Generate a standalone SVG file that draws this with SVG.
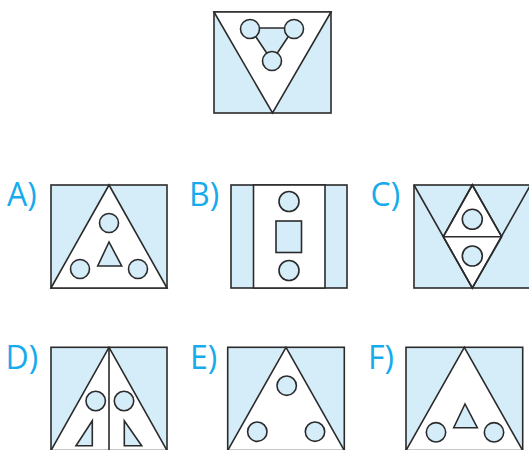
<svg xmlns="http://www.w3.org/2000/svg" width="529" height="450" viewBox="0 0 529 450">
<style>
.b{fill:#d5ecf9;stroke:#2b2b2b;stroke-width:1.6;stroke-linejoin:miter}
.w{fill:#ffffff;stroke:#2b2b2b;stroke-width:1.6}
.l{fill:none;stroke:#2b2b2b;stroke-width:1.6}
.t{font-family:"Open Sans","Liberation Sans",Arial,sans-serif;font-size:32px;fill:#16abec}
</style>
<rect width="529" height="450" fill="#ffffff"/>
<g id="question">
<rect class="b" x="214" y="12" width="117" height="101"/>
<polygon class="w" points="214,12 331,12 272.5,113"/>
<polygon class="b" points="250,28 294,28 272,61"/>
<circle class="b" cx="250" cy="29" r="9.5"/>
<circle class="b" cx="294" cy="29" r="9.5"/>
<circle class="b" cx="272" cy="61" r="9.5"/>
</g>
<g id="optA">
<text class="t" x="7" y="206">A)</text>
<rect class="b" x="51" y="185" width="116" height="103"/>
<polygon class="w" points="109,185 51,288 167,288"/>
<circle class="b" cx="109" cy="223" r="9.5"/>
<circle class="b" cx="80" cy="269" r="9.5"/>
<circle class="b" cx="138" cy="269" r="9.5"/>
<polygon class="b" points="109,242 97.7,266 121.7,266"/>
</g>
<g id="optB">
<text class="t" x="189" y="206">B)</text>
<rect class="b" x="231" y="185" width="116" height="103"/>
<rect class="w" x="253.5" y="185" width="71.5" height="103"/>
<circle class="b" cx="289" cy="201.5" r="10"/>
<rect class="b" x="276" y="221" width="25.5" height="31.5"/>
<circle class="b" cx="289" cy="270.5" r="10"/>
</g>
<g id="optC">
<text class="t" x="370.5" y="206">C)</text>
<rect class="b" x="414" y="185" width="117" height="103"/>
<polygon class="w" points="472.3,185 443.3,236.7 472.3,288 501.7,236.7"/>
<polyline class="l" points="414,185 472.3,288 530.5,185"/>
<line class="l" x1="443.3" y1="236.7" x2="501.7" y2="236.7"/>
<polyline class="l" points="443.3,236.7 472.3,185 501.7,236.7"/>
<circle class="b" cx="472.3" cy="219.3" r="10"/>
<circle class="b" cx="472.3" cy="256" r="10"/>
</g>
<g id="optD">
<text class="t" x="5.5" y="369">D)</text>
<rect class="b" x="51" y="347.3" width="116" height="105"/>
<polygon class="w" points="109,347.3 51,450.5 167,450.5"/>
<line class="l" x1="109" y1="347.3" x2="109" y2="452"/>
<circle class="b" cx="95.7" cy="401" r="9.7"/>
<circle class="b" cx="124" cy="401" r="9.7"/>
<polygon class="b" points="92.3,420.7 92.3,445.7 76,445.7"/>
<polygon class="b" points="124.3,420.7 124.3,445.7 141.7,445.7"/>
</g>
<g id="optE">
<text class="t" x="190" y="369">E)</text>
<rect class="b" x="227.7" y="347.3" width="116.6" height="105"/>
<polygon class="w" points="286,347.3 227.7,450.5 344.3,450.5"/>
<circle class="b" cx="286.7" cy="385.7" r="9.7"/>
<circle class="b" cx="257.3" cy="431.7" r="9.7"/>
<circle class="b" cx="315" cy="431.7" r="9.7"/>
</g>
<g id="optF">
<text class="t" x="368" y="369">F)</text>
<rect class="b" x="406" y="347.3" width="116.7" height="105"/>
<polygon class="w" points="464.3,347.3 406,450.5 522.7,450.5"/>
<circle class="b" cx="436" cy="432.3" r="9.7"/>
<circle class="b" cx="494" cy="432.3" r="9.7"/>
<polygon class="b" points="465,404 453.7,427.7 477.3,427.7"/>
</g>
</svg>
